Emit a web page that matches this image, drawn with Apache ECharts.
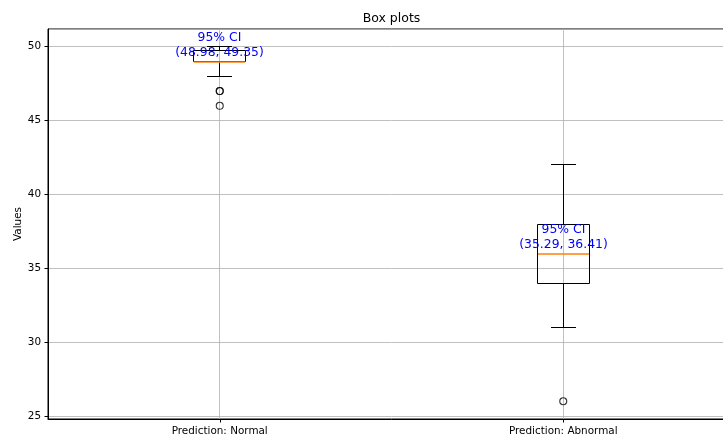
<!DOCTYPE html>
<html>
<head>
<meta charset="utf-8">
<script src="https://cdn.jsdelivr.net/npm/echarts@6/dist/echarts.min.js"></script>
<style>
  html, body { margin: 0; padding: 0; background: #fff; overflow: hidden; }
  #chart { width: 735px; height: 439px; }
</style>
</head>
<body>
<div id="chart"></div>
<script>
// Box statistics per group
const categories = ['Prediction: Normal', 'Prediction: Abnormal'];
const whiskerLow = [48, 31];
const q1 = [49, 34];
const medians = [49, 36];
const q3 = [49.75, 38];
const whiskerHigh = [50, 42];
const outliers = [[47, 47, 46], [26]];
// 95% confidence intervals shown above each median
const ciLow = [48.98, 35.29];
const ciHigh = [49.35, 36.41];

const FONT = '"DejaVu Sans", sans-serif';

const boxData = categories.map((c, i) => [i, whiskerLow[i], q1[i], medians[i], q3[i], whiskerHigh[i], ciLow[i], ciHigh[i]]);
const flierData = [];
outliers.forEach((list, i) => list.forEach(v => flierData.push([i, v])));

// snap to pixel centres so 1px strokes stay sharp
const px = v => Math.round(v - 0.5) + 0.5;

function renderBox(params, api) {
  const i = api.value(0);
  const low = api.coord([i, api.value(1)]);
  const bq1 = api.coord([i, api.value(2)]);
  const med = api.coord([i, api.value(3)]);
  const bq3 = api.coord([i, api.value(4)]);
  const high = api.coord([i, api.value(5)]);
  const band = api.size([1, 0])[0];
  const halfBox = band * 0.075;
  const halfCap = halfBox / 2;
  const cx = px(low[0]);
  const yLow = px(low[1]), yQ1 = px(bq1[1]), yQ3 = px(bq3[1]), yHigh = px(high[1]);
  const black = { stroke: '#000', lineWidth: 1 };
  const f = v => v.toFixed(2);
  const boxLeft = px(cx - halfBox), boxW = Math.round(2 * halfBox);
  return {
    type: 'group',
    children: [
      { type: 'line', shape: { x1: cx, y1: yQ3, x2: cx, y2: yHigh }, style: black },
      { type: 'line', shape: { x1: cx, y1: yQ1, x2: cx, y2: yLow }, style: black },
      { type: 'line', shape: { x1: Math.round(cx - halfCap), y1: yHigh, x2: Math.round(cx + halfCap), y2: yHigh }, style: black },
      { type: 'line', shape: { x1: Math.round(cx - halfCap), y1: yLow, x2: Math.round(cx + halfCap), y2: yLow }, style: black },
      { type: 'rect', shape: { x: boxLeft, y: yQ3, width: boxW, height: yQ1 - yQ3 },
        style: { fill: 'none', stroke: '#000', lineWidth: 1 } },
      { type: 'line', z2: 5, shape: { x1: boxLeft + 0.5, y1: Math.round(med[1]), x2: boxLeft + boxW - 0.5, y2: Math.round(med[1]) },
        style: { stroke: '#ff7f0e', lineWidth: 1.6 } },
      { type: 'text', z2: 10,
        style: {
          x: cx, y: med[1] - 1.5,
          text: '95% CI\n(' + f(api.value(6)) + ', ' + f(api.value(7)) + ')',
          align: 'center', verticalAlign: 'bottom',
          fill: '#0000ff', font: '12.4px ' + FONT, lineHeight: 14.6
        } }
    ]
  };
}

// vertical grid lines at each category centre
function renderVGrid(params, api) {
  const i = api.value(0);
  const x = px(api.coord([i, medians[i]])[0]);
  const cs = params.coordSys;
  return {
    type: 'line',
    shape: { x1: x, y1: cs.y, x2: x, y2: cs.y + cs.height },
    style: { stroke: '#b0b0b0', lineWidth: 0.8 }
  };
}

const chart = echarts.init(document.getElementById('chart'), null, { renderer: 'canvas' });
chart.setOption({
  animation: false,
  backgroundColor: '#fff',
  textStyle: { fontFamily: FONT },
  title: {
    text: 'Box plots',
    left: 391.5, top: 12, textAlign: 'center', padding: 0,
    textStyle: { fontSize: 12.5, fontWeight: 'normal', color: '#000', fontFamily: FONT }
  },
  grid: {
    left: 48, right: 0, top: 29, bottom: 20,
    show: true, borderColor: '#000', borderWidth: 1, backgroundColor: 'transparent'
  },
  xAxis: {
    type: 'category',
    data: categories,
    boundaryGap: true,
    axisLine: { show: true, lineStyle: { color: '#000', width: 1 } },
    axisTick: { show: true, alignWithLabel: true, length: 3.5, lineStyle: { color: '#000' } },
    axisLabel: { color: '#000', fontSize: 10.4, margin: 7, fontFamily: FONT },
    splitLine: { show: false }
  },
  yAxis: {
    type: 'value',
    min: 24.8, max: 51.2, splitNumber: 5,
    name: 'Values', nameLocation: 'middle', nameGap: 25, nameMoveOverlap: false,
    nameTextStyle: { color: '#000', fontSize: 10.4, fontFamily: FONT },
    axisLine: { show: true, lineStyle: { color: '#000', width: 1 } },
    axisTick: { show: true, length: 3.5, lineStyle: { color: '#000' } },
    axisLabel: { color: '#000', fontSize: 10.4, margin: 7, showMinLabel: false, showMaxLabel: false, fontFamily: FONT },
    splitLine: { show: true, lineStyle: { color: '#b0b0b0', width: 0.8 } }
  },
  series: [
    { type: 'custom', z: 1, renderItem: renderVGrid, data: boxData, silent: true },
    { type: 'custom', z: 2, renderItem: renderBox, data: boxData, encode: { x: 0, y: [1, 2, 3, 4, 5] } },
    {
      type: 'scatter', z: 3, data: flierData, symbol: 'circle', symbolSize: 7,
      itemStyle: { color: 'rgba(0,0,0,0)', borderColor: '#000', borderWidth: 1.1 }
    }
  ]
});
</script>
</body>
</html>
